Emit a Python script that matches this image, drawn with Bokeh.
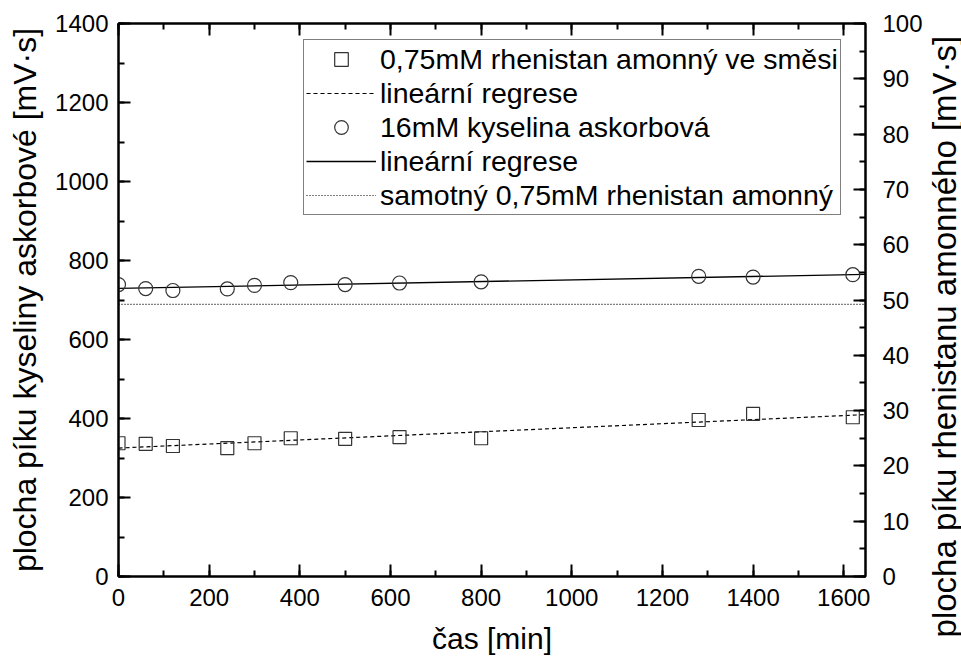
import math
import numpy as np
from bokeh.plotting import figure
from bokeh.layouts import row
from bokeh.core.properties import value
from bokeh.models import Range1d, LinearAxis, Legend, LegendItem, SingleIntervalTicker, ColumnDataSource
from bokeh.embed import file_html
from bokeh.resources import INLINE

# ---- data ----
time_min = [0, 60, 120, 240, 300, 380, 500, 620, 800, 1280, 1400, 1620]
ascorbic_area = [739, 729, 724, 728, 737, 744, 739, 743, 746, 760, 758, 764]          # left axis
perrhenate_mix_area = [24.1, 24.0, 23.6, 23.2, 24.1, 25.0, 24.9, 25.2, 25.0, 28.3, 29.4, 28.8]  # right axis
perrhenate_alone_area = 49.2   # right axis, constant level
x_limits = [0, 1648]
top_tick_values = [0, 200, 400, 600, 800, 1000, 1200, 1400, 1600]
right_axis_title = "plocha píku rhenistanu amonného [mV·s]"

FONT = "Liberation Sans"

# linear regressions computed from the data
t = np.array(time_min, dtype=float)
a_fit = np.polyfit(t, np.array(ascorbic_area, dtype=float), 1)
r_fit = np.polyfit(t, np.array(perrhenate_mix_area, dtype=float), 1)
x_line = np.array(x_limits, dtype=float)

p = figure(width=926, height=659, output_backend="svg", toolbar_location=None,
           x_range=Range1d(*x_limits), y_range=Range1d(0, 1400),
           min_border_left=118, min_border_right=61, min_border_top=23, min_border_bottom=83,
           x_axis_location=None, y_axis_location=None)
p.extra_y_ranges = {"right": Range1d(0, 100)}
p.xgrid.visible = False
p.ygrid.visible = False
p.outline_line_color = "black"
p.outline_line_width = 2
p.background_fill_color = "white"
p.border_fill_color = "white"


def style(ax):
    ax.axis_line_width = 2
    ax.axis_line_color = "black"
    ax.major_tick_in = 12
    ax.major_tick_out = 0
    ax.minor_tick_in = 6
    ax.minor_tick_out = 0
    ax.major_tick_line_width = 2
    ax.minor_tick_line_width = 2
    ax.major_tick_line_color = "black"
    ax.minor_tick_line_color = "black"
    ax.major_label_text_font = FONT
    ax.major_label_text_font_size = "24px"
    ax.major_label_text_color = "black"
    ax.axis_label_text_font = FONT
    ax.axis_label_text_font_size = "32px"
    ax.axis_label_text_font_style = "normal"
    ax.axis_label_text_color = "black"


xb = LinearAxis(ticker=SingleIntervalTicker(interval=200, num_minor_ticks=2), axis_label="čas [min]")
style(xb)
xb.axis_label_text_font_size = "30px"
xb.major_label_standoff = 12
xb.axis_label_standoff = 13
p.add_layout(xb, "below")

xt = LinearAxis(ticker=SingleIntervalTicker(interval=200, num_minor_ticks=2))
style(xt)
xt.major_label_overrides = {v: "" for v in top_tick_values}
xt.major_label_standoff = 0
p.add_layout(xt, "above")

yl = LinearAxis(ticker=SingleIntervalTicker(interval=200, num_minor_ticks=2),
                axis_label="plocha píku kyseliny askorbové [mV·s]")
style(yl)
yl.major_label_standoff = 10
yl.axis_label_standoff = 9
p.add_layout(yl, "left")

yr = LinearAxis(y_range_name="right", ticker=SingleIntervalTicker(interval=10, num_minor_ticks=2))
style(yr)
yr.major_label_standoff = 17
p.add_layout(yr, "right")

src = ColumnDataSource(dict(t=time_min, asc=ascorbic_area, reh=perrhenate_mix_area))

r_alone = p.line(x_line, [perrhenate_alone_area, perrhenate_alone_area], y_range_name="right",
                 line_color="black", line_width=1.2, line_dash="1 2")
r_sq_fit = p.line(x_line, np.polyval(r_fit, x_line), y_range_name="right",
                  line_color="black", line_width=1.2, line_dash="4 3")
r_ci_fit = p.line(x_line, np.polyval(a_fit, x_line), line_color="black", line_width=1.3)
r_sq = p.scatter("t", "reh", source=src, y_range_name="right", marker="square", size=13,
                 fill_color=None, line_color="#333333", line_width=1.2)
r_ci = p.scatter("t", "asc", source=src, marker="circle", size=14,
                 fill_color=None, line_color="#333333", line_width=1.2)

legend = Legend(items=[
    LegendItem(label="0,75mM rhenistan amonný ve směsi", renderers=[r_sq]),
    LegendItem(label="lineární regrese", renderers=[r_sq_fit]),
    LegendItem(label="16mM kyselina askorbová", renderers=[r_ci]),
    LegendItem(label="lineární regrese", renderers=[r_ci_fit]),
    LegendItem(label="samotný 0,75mM rhenistan amonný", renderers=[r_alone]),
], location=(185, 361))
legend.border_line_color = "black"
legend.border_line_width = 1.5
legend.background_fill_color = "white"
legend.background_fill_alpha = 1
legend.padding = 2
legend.margin = 0
legend.spacing = 0
legend.glyph_width = 70
legend.glyph_height = 34
legend.label_height = 34
legend.label_standoff = 4
legend.label_text_font = FONT
legend.label_text_font_size = "28.5px"
legend.label_text_color = "black"
p.add_layout(legend)

# narrow strip holding the right axis title, reading bottom-to-top
side = figure(width=35, height=659, output_backend="svg", toolbar_location=None,
              x_range=Range1d(0, 1), y_range=Range1d(0, 1),
              min_border_left=0, min_border_right=0, min_border_top=0, min_border_bottom=0,
              x_axis_location=None, y_axis_location=None)
for fig in (p, side):
    try:
        fig.frame_align = False
    except AttributeError:
        pass
side.xgrid.visible = False
side.ygrid.visible = False
side.outline_line_color = None
side.background_fill_color = "white"
side.border_fill_color = "white"
side.text(x=[0.5], y=[0.49], text=[right_axis_title], angle=math.pi / 2,
          text_align="center", text_baseline="middle",
          text_font=value(FONT), text_font_size=value("33px"), text_color="black")

layout = row(p, side, spacing=0)
open("out.html", "w").write(file_html(layout, INLINE))
